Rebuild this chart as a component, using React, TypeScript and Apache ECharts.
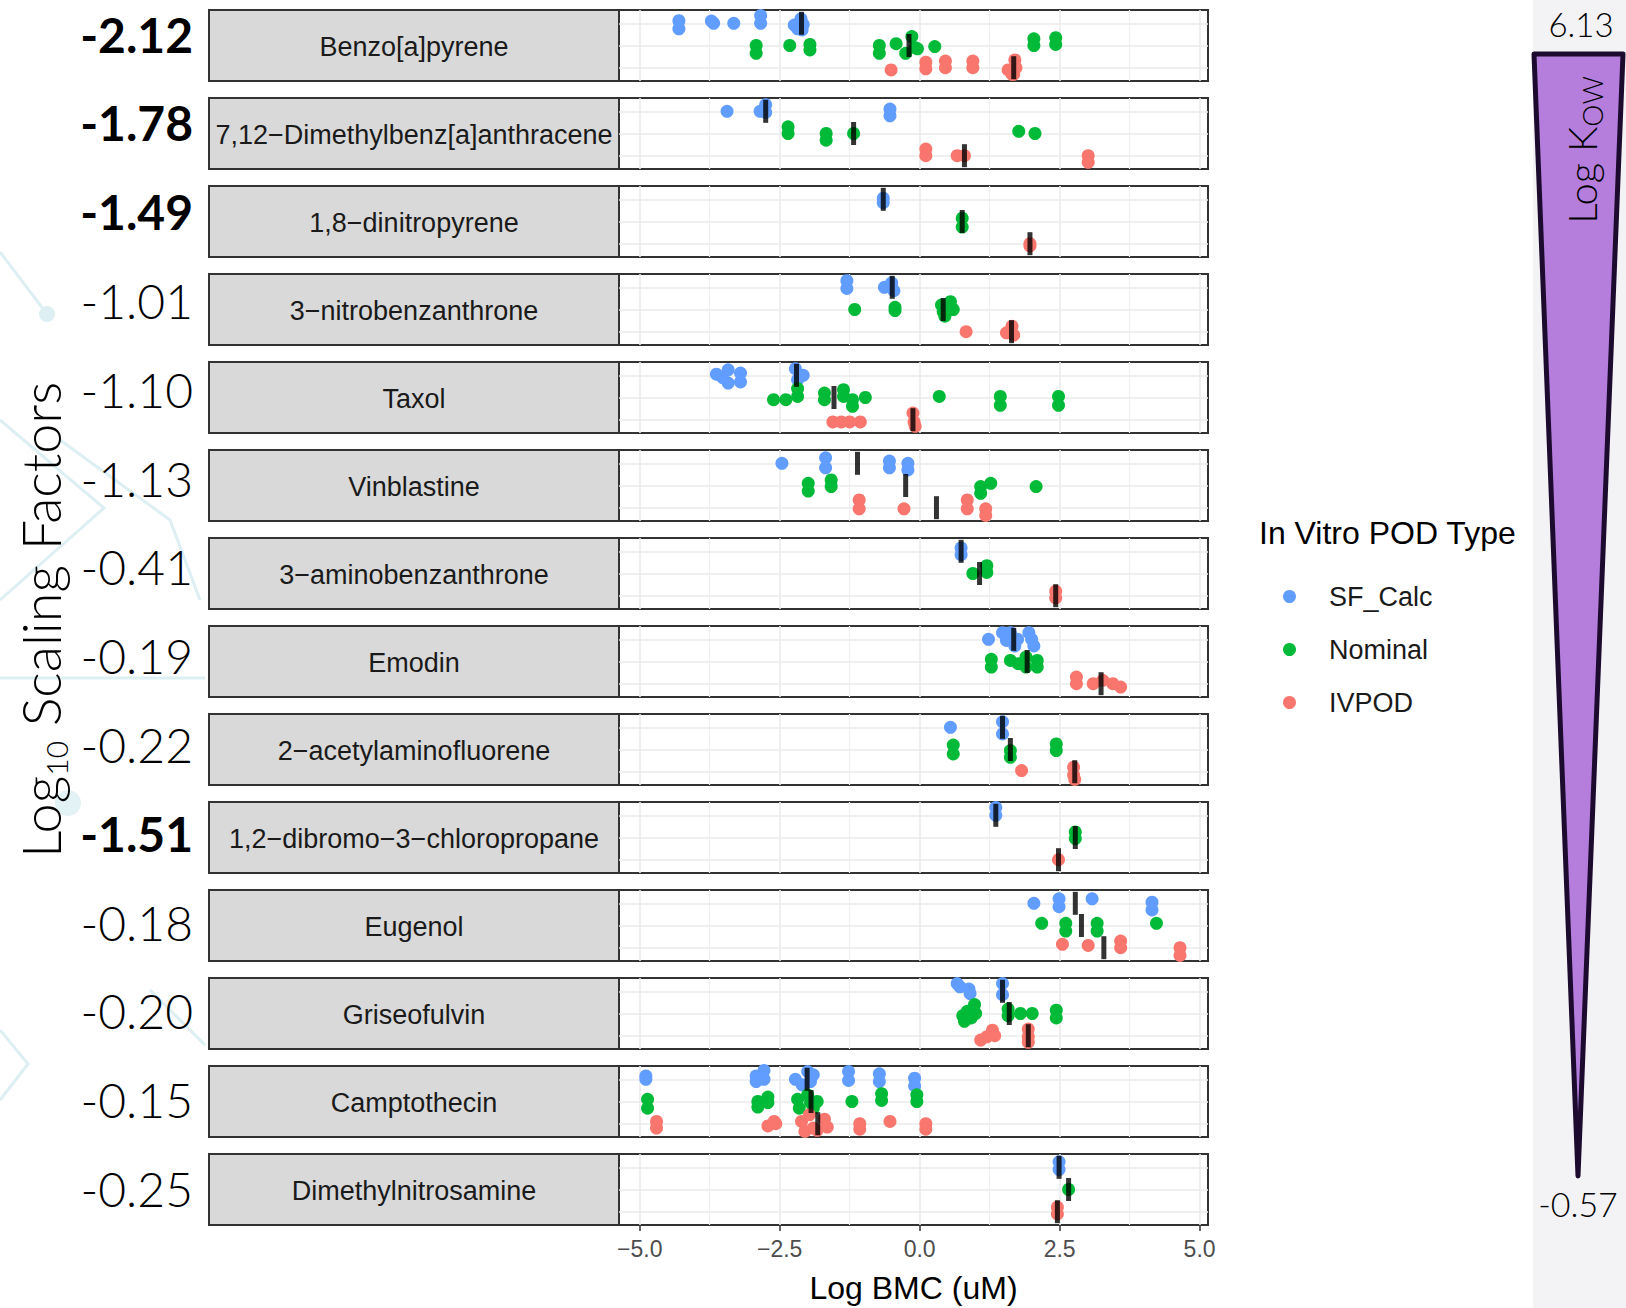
import React, { useEffect, useRef } from "react";
import * as echarts from "echarts";

// ---------------- data ----------------
const compounds = [
  "Benzo[a]pyrene",
  "7,12\u2212Dimethylbenz[a]anthracene",
  "1,8\u2212dinitropyrene",
  "3\u2212nitrobenzanthrone",
  "Taxol",
  "Vinblastine",
  "3\u2212aminobenzanthrone",
  "Emodin",
  "2\u2212acetylaminofluorene",
  "1,2\u2212dibromo\u22123\u2212chloropropane",
  "Eugenol",
  "Griseofulvin",
  "Camptothecin",
  "Dimethylnitrosamine",
];

const scalingFactors = ["-2.12", "-1.78", "-1.49", "-1.01", "-1.10", "-1.13", "-0.41", "-0.19", "-0.22", "-1.51", "-0.18", "-0.20", "-0.15", "-0.25"];
const boldFactor = [true, true, true, false, false, false, false, false, false, true, false, false, false, false];

const podTypes = ["SF_Calc", "Nominal", "IVPOD"];
const podColors = ["#619CFF", "#00BA38", "#F8766D"];

// points: [Log BMC, vertical jitter offset within the row]
const sfCalcPts = [
  [[-4.3, -0.12], [-4.3, 0.25], [-3.72, -0.1], [-3.68, 0.0], [-3.32, 0.0], [-2.84, -0.35], [-2.84, 0.0], [-2.24, 0.08], [-2.18, 0.25], [-2.12, -0.2], [-2.1, 0.3], [-2.08, 0.05]],
  [[-3.44, 0.0], [-2.85, 0.0], [-2.75, -0.3], [-2.75, 0.05], [-0.53, -0.1], [-0.53, 0.2]],
  [[-0.65, -0.05], [-0.65, 0.15]],
  [[-1.3, -0.3], [-1.3, 0.05], [-0.63, 0.0], [-0.5, -0.2], [-0.46, 0.15]],
  [[-3.63, -0.05], [-3.52, 0.1], [-3.42, -0.25], [-3.42, 0.35], [-3.2, -0.1], [-3.2, 0.3], [-2.22, -0.3], [-2.18, 0.2], [-2.08, 0.0]],
  [[-2.46, 0.0], [-1.68, -0.25], [-1.68, 0.2], [-0.54, -0.1], [-0.54, 0.2], [-0.21, 0.0], [-0.21, 0.3]],
  [[0.74, -0.15], [0.74, 0.15]],
  [[1.23, 0.0], [1.48, -0.3], [1.55, 0.05], [1.62, -0.3], [1.7, 0.3], [1.75, 0.0], [1.95, -0.3], [2.0, 0.0], [2.04, 0.3]],
  [[0.55, 0.0], [1.48, -0.25], [1.48, 0.3]],
  [[1.36, -0.35], [1.36, 0.0]],
  [[2.04, 0.0], [2.49, -0.2], [2.49, 0.15], [3.08, -0.2], [4.15, -0.05], [4.15, 0.3]],
  [[0.67, -0.35], [0.72, -0.2], [0.88, -0.1], [0.9, 0.1], [1.48, -0.35], [1.48, 0.15]],
  [[-4.89, -0.15], [-4.89, 0.0], [-2.92, -0.15], [-2.92, 0.1], [-2.78, -0.4], [-2.78, 0.0], [-2.22, 0.0], [-2.1, 0.25], [-2.0, -0.35], [-1.95, 0.1], [-1.9, -0.2], [-1.27, -0.35], [-1.27, 0.05], [-0.72, -0.25], [-0.72, 0.1], [-0.09, -0.05], [-0.09, 0.3]],
  [[2.49, -0.25], [2.49, 0.1]],
];

const nominalPts = [
  [[-2.92, 0.0], [-2.92, 0.35], [-2.32, 0.0], [-1.96, -0.05], [-1.96, 0.2], [-0.72, 0.0], [-0.72, 0.35], [-0.42, -0.08], [-0.25, 0.35], [-0.14, -0.4], [-0.08, 0.1], [-0.04, 0.15], [0.27, 0.05], [2.04, -0.3], [2.04, 0.0], [2.43, -0.35], [2.43, -0.05]],
  [[-2.35, -0.3], [-2.35, 0.0], [-1.67, 0.0], [-1.67, 0.3], [-1.18, 0.0], [1.77, -0.1], [2.06, 0.0]],
  [[0.76, -0.15], [0.76, 0.25]],
  [[-1.16, 0.0], [-0.44, -0.1], [-0.44, 0.05], [0.39, -0.2], [0.42, 0.1], [0.45, 0.3], [0.55, -0.35], [0.6, 0.0]],
  [[-2.61, 0.1], [-2.39, 0.1], [-2.18, -0.05], [-2.18, -0.4], [-1.7, -0.2], [-1.7, 0.1], [-1.36, -0.35], [-1.36, -0.05], [-1.2, 0.1], [-1.2, 0.4], [-0.97, 0.0], [0.35, -0.05], [1.44, -0.05], [1.44, 0.35], [2.48, -0.05], [2.48, 0.35]],
  [[-1.99, -0.1], [-1.99, 0.25], [-1.58, -0.25], [-1.58, 0.05], [1.09, 0.05], [1.09, 0.35], [1.27, -0.1], [2.08, 0.05]],
  [[0.95, 0.0], [1.2, -0.35], [1.2, -0.05]],
  [[1.28, -0.1], [1.28, 0.25], [1.62, -0.05], [1.76, 0.1], [1.9, -0.2], [1.9, 0.25], [2.1, -0.05], [2.1, 0.25]],
  [[0.6, -0.2], [0.6, 0.2], [1.62, 0.05], [1.62, 0.35], [2.44, -0.25], [2.44, 0.05]],
  [[2.78, -0.25], [2.78, 0.05]],
  [[2.18, -0.1], [2.61, -0.1], [2.61, 0.25], [3.17, -0.1], [3.17, 0.25], [4.23, -0.1]],
  [[0.77, 0.1], [0.8, 0.35], [0.85, -0.1], [0.92, 0.2], [0.98, -0.4], [1.0, 0.0], [1.58, -0.2], [1.58, 0.1], [1.8, 0.0], [2.01, 0.0], [2.44, -0.15], [2.44, 0.2]],
  [[-4.86, -0.1], [-4.86, 0.3], [-2.89, 0.0], [-2.89, 0.25], [-2.71, -0.2], [-2.71, 0.05], [-2.18, -0.1], [-2.15, 0.3], [-2.0, -0.3], [-1.95, 0.05], [-1.9, 0.3], [-1.83, 0.0], [-1.21, 0.0], [-0.68, -0.35], [-0.68, -0.05], [-0.05, -0.3], [-0.05, 0.0]],
  [[2.66, 0.0]],
];

const ivpodPts = [
  [[-0.51, 0.1], [0.11, -0.25], [0.11, 0.05], [0.46, -0.3], [0.46, 0.0], [0.95, -0.3], [0.95, 0.0], [1.58, 0.1], [1.65, 0.3], [1.68, 0.3], [1.7, -0.35], [1.72, 0.0]],
  [[0.11, -0.3], [0.11, 0.0], [0.67, 0.0], [0.8, 0.0], [3.01, 0.0], [3.01, 0.3]],
  [[1.97, 0.0], [1.97, 0.1]],
  [[0.83, 0.0], [1.55, 0.05], [1.65, -0.25], [1.68, 0.15]],
  [[-1.55, 0.1], [-1.4, 0.1], [-1.25, 0.1], [-1.06, 0.1], [-0.12, -0.3], [-0.1, 0.1], [-0.08, 0.3]],
  [[-1.08, -0.35], [-1.08, 0.05], [-0.28, 0.05], [0.85, -0.35], [0.85, 0.05], [1.18, 0.05], [1.18, 0.35]],
  [[2.43, -0.2], [2.43, 0.1]],
  [[2.8, -0.3], [2.8, 0.0], [3.1, 0.0], [3.27, -0.15], [3.45, 0.0], [3.59, 0.15]],
  [[1.82, -0.05], [2.75, -0.2], [2.75, 0.15], [2.77, 0.35]],
  [[2.48, 0.0]],
  [[2.55, -0.15], [3.01, -0.1], [3.59, -0.3], [3.59, 0.0], [4.65, 0.0], [4.65, 0.35]],
  [[1.09, 0.2], [1.2, 0.05], [1.3, -0.25], [1.34, 0.0], [1.94, -0.3], [1.94, 0.05], [1.94, 0.3]],
  [[-4.7, -0.1], [-4.7, 0.2], [-2.71, 0.1], [-2.6, -0.1], [-2.57, 0.0], [-2.11, -0.1], [-2.05, 0.35], [-1.97, -0.4], [-1.9, 0.2], [-1.83, 0.3], [-1.7, -0.2], [-1.65, 0.15], [-1.07, 0.0], [-1.07, 0.25], [-0.53, -0.1], [0.11, 0.0], [0.11, 0.25]],
  [[2.46, -0.2], [2.46, 0.1]],
];

const medianSF = [-2.11, -2.75, -0.65, -0.49, -2.2, -1.11, 0.74, 1.68, 1.48, 1.36, 2.78, 1.48, -2.01, 2.49];
const medianNom = [-0.19, -1.18, 0.76, 0.42, -1.53, -0.25, 1.07, 1.92, 1.62, 2.78, 2.89, 1.6, -1.94, 2.66];
const medianIV = [1.68, 0.8, 1.97, 1.64, -0.12, 0.3, 2.43, 3.24, 2.77, 2.48, 3.29, 1.94, -1.82, 2.46];

const xMajorTicks = [-5, -2.5, 0, 2.5, 5];
const xMinorTicks = [-3.75, -1.25, 1.25, 3.75];
const rowLevels = [1, 2, 3];
const xRange = [-5.37, 5.15];

const kowTop = "6.13";
const kowBottom = "-0.57";

// ---------------- layout ----------------
const W = 1626;
const H = 1308;
const PANEL_TOP0 = 10;
const PANEL_PITCH = 88;
const PANEL_H = 71;
const PANEL_LEFT = 619;
const PANEL_W = 589;
const STRIP_LEFT = 209;
const SANS = "'Liberation Sans', Arial, Helvetica, sans-serif";
const GEO = "Lato, 'Noto Sans', sans-serif";

function fmtTick(v: number) {
  return v < 0 ? "\u2212" + Math.abs(v).toFixed(1) : v.toFixed(1);
}

function buildOption() {
  const grid: any[] = [];
  const xAxis: any[] = [];
  const yAxis: any[] = [];
  const series: any[] = [];
  const graphic: any[] = [];
  const pointSets = [sfCalcPts, nominalPts, ivpodPts];
  const medianSets = [medianSF, medianNom, medianIV];
  const last = compounds.length - 1;

  // right-side light background
  graphic.push({ type: "rect", z: -10, shape: { x: 1533, y: 0, width: W - 1533, height: H }, style: { fill: "#F3F3F6" } });

  // faint decorative lines on the left
  const deco = { stroke: "#DDEFF2", lineWidth: 3, fill: "none" };
  graphic.push({ type: "polyline", z: -10, shape: { points: [[0, 252], [47, 314]] }, style: deco });
  graphic.push({ type: "circle", z: -10, shape: { cx: 47, cy: 314, r: 8 }, style: { fill: "#DDEFF2" } });
  graphic.push({ type: "polyline", z: -10, shape: { points: [[0, 420], [104, 508], [0, 600]] }, style: deco });
  graphic.push({ type: "polyline", z: -10, shape: { points: [[60, 440], [170, 520], [200, 600]] }, style: deco });
  graphic.push({ type: "polyline", z: -10, shape: { points: [[0, 678], [205, 678]] }, style: deco });
  graphic.push({ type: "circle", z: -10, shape: { cx: 68, cy: 803, r: 13 }, style: { fill: "#E3F2F4" } });
  graphic.push({ type: "polyline", z: -10, shape: { points: [[0, 1030], [28, 1064], [0, 1100]] }, style: deco });
  graphic.push({ type: "polyline", z: -10, shape: { points: [[150, 990], [205, 1045]] }, style: deco });

  compounds.forEach((name, i) => {
    const top = PANEL_TOP0 + i * PANEL_PITCH;
    grid.push({
      left: PANEL_LEFT,
      top,
      width: PANEL_W,
      height: PANEL_H,
      show: true,
      backgroundColor: "#FFFFFF",
      borderColor: "#333333",
      borderWidth: 2,
    });
    const isLast = i === last;
    xAxis.push({
      gridIndex: i,
      type: "value",
      min: xRange[0],
      max: xRange[1],
      position: "bottom",
      axisLine: { show: false },
      axisTick: { show: isLast, customValues: xMajorTicks, length: 6, lineStyle: { color: "#333333", width: 1.5 } },
      axisLabel: {
        show: isLast,
        customValues: xMajorTicks,
        formatter: (v: number) => fmtTick(v),
        fontSize: 23,
        color: "#4D4D4D",
        fontFamily: SANS,
        margin: 12,
      },
      splitLine: { show: false },
      name: isLast ? "Log BMC (uM)" : "",
      nameLocation: "middle",
      nameGap: 47,
      nameTextStyle: { fontSize: 32, color: "#000000", fontFamily: SANS },
    });
    yAxis.push({ gridIndex: i, type: "value", min: 0.4, max: 3.6, inverse: true, show: false });

    // grid lines (drawn below the points)
    series.push({
      type: "scatter",
      name: "grid",
      xAxisIndex: i,
      yAxisIndex: i,
      data: [[0, 2]],
      symbolSize: 0,
      silent: true,
      z: 1,
      markLine: {
        z: 1,
        silent: true,
        symbol: ["none", "none"],
        label: { show: false },
        lineStyle: { color: "#EBEBEB", width: 1.6, type: "solid" },
        data: [
          ...xMajorTicks.map((v) => ({ xAxis: v })),
          ...xMinorTicks.map((v) => ({ xAxis: v, lineStyle: { color: "#EFEFEF", width: 1.2, type: "solid" } })),
          ...rowLevels.map((v) => ({ yAxis: v })),
        ],
      },
    });

    podTypes.forEach((t, k) => {
      series.push({
        type: "scatter",
        name: t,
        xAxisIndex: i,
        yAxisIndex: i,
        symbol: "circle",
        symbolSize: 13,
        silent: true,
        z: 3,
        itemStyle: { color: podColors[k], opacity: 1 },
        data: pointSets[k][i].map(([x, dy]) => [x, k + 1 + dy]),
      });
    });

    series.push({
      type: "scatter",
      name: "median",
      xAxisIndex: i,
      yAxisIndex: i,
      symbol: "rect",
      symbolSize: [5, 23],
      silent: true,
      z: 4,
      itemStyle: { color: "#000000" },
      data: medianSets.map((m, k) => [m[i], k + 1]),
    });

    // strip label box
    graphic.push({
      type: "rect",
      shape: { x: STRIP_LEFT, y: top, width: PANEL_LEFT - STRIP_LEFT, height: PANEL_H },
      style: { fill: "#D9D9D9", stroke: "#333333", lineWidth: 2 },
    });
    graphic.push({
      type: "text",
      x: (STRIP_LEFT + PANEL_LEFT) / 2,
      y: top + PANEL_H / 2 + 1,
      style: { text: name, fontSize: 27, fontFamily: SANS, fill: "#1A1A1A", align: "center", verticalAlign: "middle" },
    });

    // scaling factor number
    graphic.push({
      type: "text",
      x: 193,
      y: 34 + i * 88.8,
      style: {
        text: scalingFactors[i],
        fontSize: 48,
        fontFamily: GEO,
        fontWeight: boldFactor[i] ? "bold" : 300,
        fill: "#000000",
        align: "right",
        verticalAlign: "middle",
      },
    });
  });

  // y-axis title
  graphic.push({
    type: "text",
    x: 40,
    y: 620,
    rotation: Math.PI / 2,
    style: {
      text: "{a|Log}{s|10}{a| Scaling Factors}",
      align: "center",
      verticalAlign: "middle",
      rich: {
        a: { fontSize: 54, fontFamily: GEO, fill: "#000000", fontWeight: 300, lineHeight: 62 },
        s: { fontSize: 30, fontFamily: GEO, fill: "#000000", fontWeight: 300, verticalAlign: "bottom", lineHeight: 62 },
      },
    },
  });

  // legend title
  graphic.push({
    type: "text",
    x: 1259,
    y: 533,
    style: { text: "In Vitro POD Type", fontSize: 32, fontFamily: SANS, fill: "#000000", align: "left", verticalAlign: "middle" },
  });

  // Kow triangle
  graphic.push({
    type: "polygon",
    shape: { points: [[1534, 54], [1623, 54], [1578, 1176]] },
    style: { fill: "#B57EDD", stroke: "#1C0B2E", lineWidth: 5, lineJoin: "round" },
  });
  graphic.push({
    type: "text",
    x: 1582,
    y: 150,
    rotation: Math.PI / 2,
    style: {
      text: "{a|Log K}{s|OW}",
      align: "center",
      verticalAlign: "middle",
      rich: {
        a: { fontSize: 40, fontFamily: GEO, fill: "#000000", fontWeight: 300, lineHeight: 48 },
        s: { fontSize: 28, fontFamily: GEO, fill: "#000000", fontWeight: 300, verticalAlign: "bottom", lineHeight: 48 },
      },
    },
  });
  graphic.push({
    type: "text",
    x: 1581,
    y: 24,
    style: { text: kowTop, fontSize: 33, fontFamily: GEO, fontWeight: 300, fill: "#000000", align: "center", verticalAlign: "middle" },
  });
  graphic.push({
    type: "text",
    x: 1578,
    y: 1203,
    style: { text: kowBottom, fontSize: 34, fontFamily: GEO, fontWeight: 300, fill: "#000000", align: "center", verticalAlign: "middle" },
  });

  return {
    animation: false,
    backgroundColor: "#FFFFFF",
    tooltip: { show: false },
    legend: {
      data: podTypes.map((n) => ({ name: n, icon: "circle" })),
      orient: "vertical",
      left: 1278,
      top: 578,
      itemWidth: 13,
      itemHeight: 13,
      itemGap: 26,
      selectedMode: false,
      textStyle: { fontSize: 27, color: "#1A1A1A", fontFamily: SANS, padding: [0, 0, 0, 28] },
    },
    grid,
    xAxis,
    yAxis,
    series,
    graphic,
  };
}

export default function App() {
  const ref = useRef<HTMLDivElement>(null);
  useEffect(() => {
    document.body.style.margin = "0";
    document.body.style.padding = "0";
    if (!ref.current) return;
    const chart = echarts.init(ref.current, undefined, { renderer: "svg" });
    chart.setOption(buildOption() as any);
    return () => chart.dispose();
  }, []);
  return <div ref={ref} style={{ width: W, height: H, background: "#fff", margin: 0 }} />;
}
